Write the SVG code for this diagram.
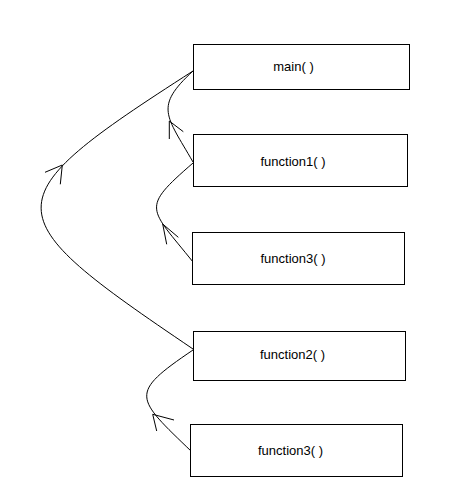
<svg xmlns="http://www.w3.org/2000/svg" width="466" height="504" viewBox="0 0 466 504">
<style>
.box{fill:#fff;stroke:#000;stroke-width:1;shape-rendering:crispEdges}
.lbl{font-family:"Liberation Sans",Arial,sans-serif;font-size:13px;fill:#000;text-anchor:middle}
.c{fill:none;stroke:#000;stroke-width:1}
</style>
<rect width="466" height="504" fill="#fff"/>
<g id="connectors">
<path class="c" d="M193,71 C154,107 166,115 193,162"/>
<path class="c" d="M169.3,121 L169.3,139 M169.3,121 L183.3,131.7"/>
<path class="c" d="M193,71 C-11,202 -8,213 193,349"/>
<path class="c" d="M62.3,165 L45,172.3 M62.3,165 L60.3,184.3"/>
<path class="c" d="M193,163 C140,209 149,207 193,262"/>
<path class="c" d="M162.7,224 L166.7,244.3 M162.7,224 L178.3,237.3"/>
<path class="c" d="M193,350 C128,394 135,397 192,452"/>
<path class="c" d="M152.7,414.3 L156.7,431 M152.7,414.3 L174,420"/>
</g>
<g id="main">
<rect class="box" x="193.5" y="44.5" width="216" height="45"/>
<text class="lbl" x="293.5" y="71">main( )</text>
</g>
<g id="function1">
<rect class="box" x="193.5" y="134.5" width="214" height="52"/>
<text class="lbl" x="293" y="166">function1( )</text>
</g>
<g id="function3a">
<rect class="box" x="192.5" y="232.5" width="212" height="52"/>
<text class="lbl" x="293" y="263">function3( )</text>
</g>
<g id="function2">
<rect class="box" x="193.5" y="331.5" width="212" height="49"/>
<text class="lbl" x="292.5" y="359">function2( )</text>
</g>
<g id="function3b">
<rect class="box" x="190.5" y="424.5" width="212" height="52"/>
<text class="lbl" x="290.5" y="455">function3( )</text>
</g>
</svg>
